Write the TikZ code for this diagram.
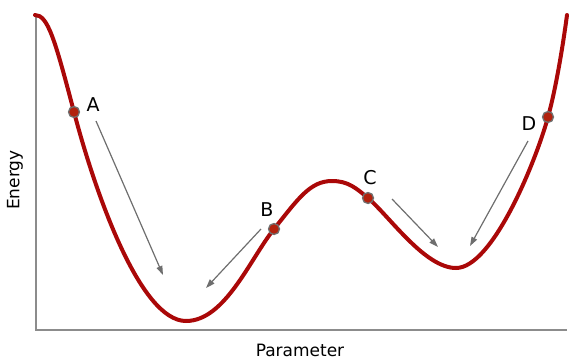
\documentclass[tikz,border=0pt]{standalone}
\usepackage{fontspec}
\setmainfont{DejaVu Sans}
\usetikzlibrary{arrows.meta}
\definecolor{curveRed}{RGB}{170, 8, 8}
\definecolor{dotRed}{RGB}{178, 34, 14}
\definecolor{axisGray}{RGB}{140, 140, 140}
\definecolor{arrowGray}{RGB}{110, 110, 110}

\begin{document}
\begin{tikzpicture}[x=1pt, y=1pt,
    dot/.style={circle, fill=dotRed, draw=axisGray!80!black, line width=1.3pt, minimum size=11pt, inner sep=0pt},
    lbl/.style={font=\fontsize{19}{19}\selectfont, inner sep=0pt},
    hint/.style={draw=arrowGray, line width=1.2pt, -{Triangle[length=9pt, width=6pt]}}]
    \useasboundingbox (0,0) rectangle (569,360);
    % axes
    \draw[axisGray, line width=1.6pt] (36,345) -- (36,30) -- (567,30);
    \node[rotate=90, font=\fontsize{17}{17}\selectfont] (ylab) at (15,180) {Energy};
    \node[font=\fontsize{17}{17}\selectfont] (xlab) at (300,10) {Parameter};
    % energy curve
    \draw[curveRed, line width=4pt, line cap=round]
      (35,345) .. controls (48,345) and (55,320) .. (74,248)
      .. controls (95,168) and (140,39) .. (186,39)
      .. controls (225,39) and (250,101) .. (274,131)
      .. controls (298,161) and (310,179) .. (332,179)
      .. controls (348,179) and (356,172) .. (368,162)
      .. controls (390,143) and (425,92) .. (456,92)
      .. controls (492,92) and (535,196) .. (548,243)
      .. controls (556,272) and (563,315) .. (567,345);
    % states
    \node[dot] (ptA) at (74,248) {};
    \node[dot] (ptB) at (274,131) {};
    \node[dot] (ptC) at (368,162) {};
    \node[dot] (ptD) at (548,243) {};
    \node[lbl] (lblA) at (93,255) {A};
    \node[lbl] (lblB) at (267,150) {B};
    \node[lbl] (lblC) at (370,182) {C};
    \node[lbl] (lblD) at (529,236) {D};
    % relaxation arrows
    \coordinate (tailA) at (96,239);
    \coordinate (headA) at (163,85);
    \coordinate (tailB) at (261,131);
    \coordinate (headB) at (206,72);
    \coordinate (tailC) at (392,161);
    \coordinate (headC) at (438,113);
    \coordinate (tailD) at (528,219);
    \coordinate (headD) at (470,114);
    \draw[hint] (tailA) -- (headA);
    \draw[hint] (tailB) -- (headB);
    \draw[hint] (tailC) -- (headC);
    \draw[hint] (tailD) -- (headD);
\end{tikzpicture}
\end{document}
